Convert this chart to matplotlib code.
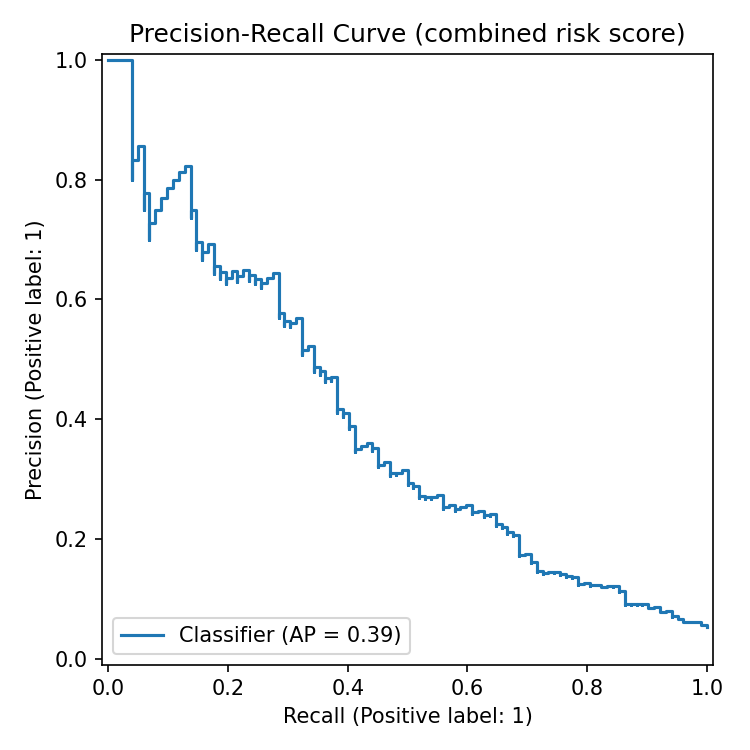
import matplotlib
matplotlib.use("Agg")
from matplotlib import pyplot as plt

# recall / precision points (ascending recall, each
# point's precision holds to its left, like sklearn's steps-post curve)
recall = [
    0.0, 0.0098, 0.0196, 0.0294, 0.0392, 0.0392, 0.0490, 0.0588, 0.0588,
    0.0686, 0.0686, 0.0784, 0.0882, 0.0980, 0.1078, 0.1176, 0.1275, 0.1373,
    0.1373, 0.1471, 0.1471, 0.1569, 0.1569, 0.1667, 0.1765, 0.1765, 0.1863,
    0.1863, 0.1961, 0.1961, 0.2059, 0.2157, 0.2157, 0.2255, 0.2353, 0.2353,
    0.2451, 0.2451, 0.2549, 0.2549, 0.2647, 0.2745, 0.2843, 0.2843, 0.2941,
    0.2941, 0.3039, 0.3039, 0.3137, 0.3235, 0.3235, 0.3333, 0.3431, 0.3431,
    0.3529, 0.3529, 0.3627, 0.3627, 0.3725, 0.3725, 0.3824, 0.3824, 0.3922,
    0.3922, 0.4020, 0.4020, 0.4118, 0.4118, 0.4216, 0.4314, 0.4412, 0.4412,
    0.4510, 0.4510, 0.4608, 0.4706, 0.4706, 0.4804, 0.4804, 0.4902, 0.5,
    0.5, 0.5098, 0.5098, 0.5196, 0.5196, 0.5294, 0.5294, 0.5392, 0.5392,
    0.5490, 0.5588, 0.5588, 0.5686, 0.5784, 0.5784, 0.5882, 0.5980, 0.6078,
    0.6078, 0.6176, 0.6275, 0.6275, 0.6373, 0.6373, 0.6471, 0.6471, 0.6569,
    0.6569, 0.6667, 0.6667, 0.6765, 0.6765, 0.6863, 0.6863, 0.6961, 0.7059,
    0.7059, 0.7157, 0.7157, 0.7255, 0.7255, 0.7353, 0.7451, 0.7451, 0.7549,
    0.7549, 0.7647, 0.7647, 0.7745, 0.7745, 0.7843, 0.7843, 0.7941, 0.8039,
    0.8039, 0.8137, 0.8235, 0.8235, 0.8333, 0.8431, 0.8431, 0.8529, 0.8529,
    0.8627, 0.8627, 0.8725, 0.8725, 0.8824, 0.8824, 0.8922, 0.8922, 0.9020,
    0.9020, 0.9118, 0.9216, 0.9216, 0.9314, 0.9412, 0.9412, 0.9510, 0.9510,
    0.9608, 0.9608, 0.9706, 0.9706, 0.9804, 0.9902, 0.9902, 1.0, 1.0,
]
precision = [
    1.0, 1.0, 1.0, 1.0, 1.0, 0.8, 0.8333, 0.8571, 0.75,
    0.7778, 0.7, 0.7273, 0.75, 0.7692, 0.7857, 0.8, 0.8125, 0.8235,
    0.7368, 0.75, 0.6818, 0.6957, 0.6667, 0.68, 0.6923, 0.6429, 0.6552,
    0.6333, 0.6452, 0.625, 0.6364, 0.6471, 0.6286, 0.6389, 0.6486, 0.6316,
    0.6410, 0.625, 0.6341, 0.6190, 0.6279, 0.6364, 0.6444, 0.5686, 0.5769,
    0.5556, 0.5636, 0.5536, 0.5614, 0.5690, 0.5077, 0.5152, 0.5224, 0.4795,
    0.4865, 0.4737, 0.4805, 0.4625, 0.4691, 0.4634, 0.4699, 0.4105, 0.4167,
    0.4040, 0.41, 0.3832, 0.3889, 0.3443, 0.3496, 0.3548, 0.36, 0.3462,
    0.3511, 0.3194, 0.3241, 0.3288, 0.3057, 0.3101, 0.3063, 0.3106, 0.3148,
    0.2898, 0.2938, 0.2842, 0.2880, 0.2677, 0.2714, 0.2660, 0.2696, 0.2670,
    0.2705, 0.2740, 0.25, 0.2533, 0.2565, 0.2469, 0.25, 0.2531, 0.2562,
    0.2412, 0.2442, 0.2471, 0.2370, 0.2399, 0.2381, 0.2409, 0.2215, 0.2241,
    0.2175, 0.2201, 0.2086, 0.2110, 0.2047, 0.2071, 0.1711, 0.1732, 0.1752,
    0.16, 0.1619, 0.1454, 0.1471, 0.1415, 0.1431, 0.1448, 0.1434, 0.1450,
    0.14, 0.1416, 0.1361, 0.1376, 0.1341, 0.1356, 0.1236, 0.125, 0.1263,
    0.1209, 0.1222, 0.1235, 0.1188, 0.1201, 0.1213, 0.1194, 0.1207, 0.1120,
    0.1131, 0.0895, 0.0904, 0.0895, 0.0905, 0.0896, 0.0905, 0.0896, 0.0905,
    0.0840, 0.0849, 0.0857, 0.0773, 0.0781, 0.0788, 0.0700, 0.0707, 0.0660,
    0.0666, 0.0605, 0.0611, 0.0607, 0.0613, 0.0619, 0.0560, 0.0565, 0.0520,
]
ap = 0.39

fig, ax = plt.subplots(figsize=(5, 5), dpi=150)
ax.plot(recall, precision, drawstyle="steps-pre",
        label="Classifier (AP = %.2f)" % ap)
ax.set_xlim(-0.01, 1.01)
ax.set_ylim(-0.01, 1.01)
ax.set_aspect("equal")
ax.set_xlabel("Recall (Positive label: 1)")
ax.set_ylabel("Precision (Positive label: 1)")
ax.set_title("Precision-Recall Curve (combined risk score)")
ax.legend(loc="lower left")
fig.tight_layout()
fig.savefig("out.png")
